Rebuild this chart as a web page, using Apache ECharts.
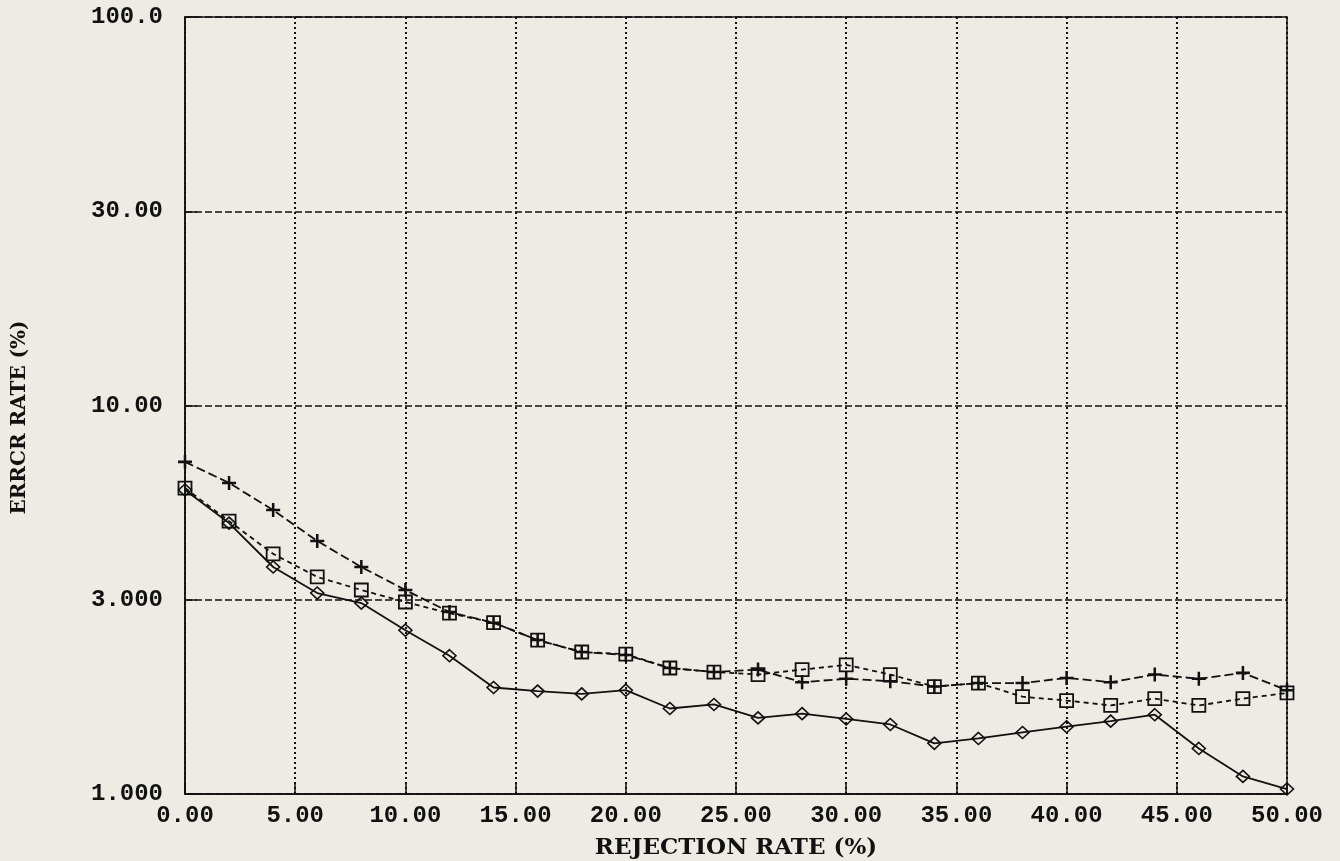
<!DOCTYPE html>
<html>
<head>
<meta charset="utf-8">
<script src="https://cdn.jsdelivr.net/npm/echarts@6/dist/echarts.min.js"></script>
<style>
  html, body { margin: 0; padding: 0; background: #eeebe4; }
  #chart { width: 1340px; height: 861px; }
</style>
</head>
<body>
<div id="chart"></div>
<script>
// rejection rate (%) at each measured point
var rejection = [0, 2, 4, 6, 8, 10, 12, 14, 16, 18, 20, 22, 24, 26, 28, 30, 32, 34, 36, 38, 40, 42, 44, 46, 48, 50];

// error rate (%) per curve
var plusErr = [7.16, 6.32, 5.38, 4.48, 3.84, 3.35, 2.94, 2.76, 2.49, 2.32, 2.28, 2.11, 2.06, 2.09, 1.94, 1.98,
               1.95, 1.89, 1.93, 1.93, 1.99, 1.94, 2.03, 1.98, 2.05, 1.85];
var squareErr = [6.13, 5.04, 4.15, 3.62, 3.35, 3.12, 2.92, 2.76, 2.49, 2.32, 2.29, 2.11, 2.06, 2.03, 2.09, 2.15,
                 2.03, 1.89, 1.93, 1.78, 1.74, 1.69, 1.76, 1.69, 1.76, 1.82];
var diamondErr = [6.06, 4.98, 3.84, 3.29, 3.10, 2.64, 2.27, 1.88, 1.84, 1.81, 1.85, 1.66, 1.70, 1.57, 1.61, 1.56,
                  1.51, 1.35, 1.39, 1.44, 1.49, 1.54, 1.60, 1.31, 1.11, 1.03];

var yTickLabels = ['1.000', '3.000', '10.00', '30.00', '100.0'];

var ink = '#111';
var labelFont = {color: ink, fontFamily: 'Liberation Mono', fontWeight: 'bold', fontSize: 24};

function pairs(ys) {
    return rejection.map(function(x, i) { return [x, ys[i]]; });
}

var chart = echarts.init(document.getElementById('chart'));
chart.setOption({
    backgroundColor: '#eeebe4',
    animation: false,
    grid: {left: 185, right: 53, top: 17, bottom: 67, show: true, outerBoundsMode: 'none',
           borderColor: ink, borderWidth: 1.5, backgroundColor: 'transparent'},
    xAxis: {
        type: 'value',
        min: 0, max: 50, interval: 5,
        name: 'REJECTION RATE (%)',
        nameLocation: 'middle',
        nameGap: 43,
        nameTextStyle: {color: ink, fontFamily: 'DejaVu Serif', fontWeight: 'bold', fontSize: 23},
        axisLine: {lineStyle: {color: ink, width: 1.5}},
        axisTick: {inside: true, length: 12, lineStyle: {color: ink, width: 1.5}},
        axisLabel: Object.assign({margin: 10, formatter: function(v) { return v.toFixed(2); }}, labelFont),
        splitLine: {show: true, lineStyle: {color: ink, width: 2, type: [2, 3]}}
    },
    yAxis: {
        type: 'log',
        logBase: Math.sqrt(10),
        min: 1, max: 100,
        splitNumber: 4,
        name: 'ERRCR RATE (%)',
        nameLocation: 'middle',
        nameGap: 155,
        nameTextStyle: {color: ink, fontFamily: 'DejaVu Serif', fontWeight: 'bold', fontSize: 20,
                        padding: [0, 24, 0, 0]},
        axisLine: {lineStyle: {color: ink, width: 1.5}},
        axisTick: {inside: true, length: 12, lineStyle: {color: ink, width: 1.5}},
        axisLabel: Object.assign({margin: 22, formatter: function(v) {
            return yTickLabels[Math.round(Math.log10(v) * 2)];
        }}, labelFont),
        splitLine: {show: true, lineStyle: {color: ink, width: 1.5, type: [7, 3]}}
    },
    series: [
        {
            name: 'square', type: 'line', data: pairs(squareErr),
            symbol: 'rect', symbolSize: 13,
            itemStyle: {color: 'rgba(0,0,0,0)', borderColor: ink, borderWidth: 1.8},
            lineStyle: {color: ink, width: 1.8, type: [5, 4]}
        },
        {
            name: 'diamond', type: 'line', data: pairs(diamondErr),
            symbol: 'diamond', symbolSize: [13, 12],
            itemStyle: {color: 'rgba(0,0,0,0)', borderColor: ink, borderWidth: 1.6},
            lineStyle: {color: ink, width: 1.8, type: 'solid'}
        },
        {
            name: 'plus', type: 'line', data: pairs(plusErr),
            symbol: 'path://M4.1,0h1.8v10h-1.8z M0,4.1h10v1.8h-10z', symbolSize: 14,
            itemStyle: {color: ink},
            lineStyle: {color: ink, width: 1.8, type: [9, 4]}
        }
    ]
});
</script>
</body>
</html>
